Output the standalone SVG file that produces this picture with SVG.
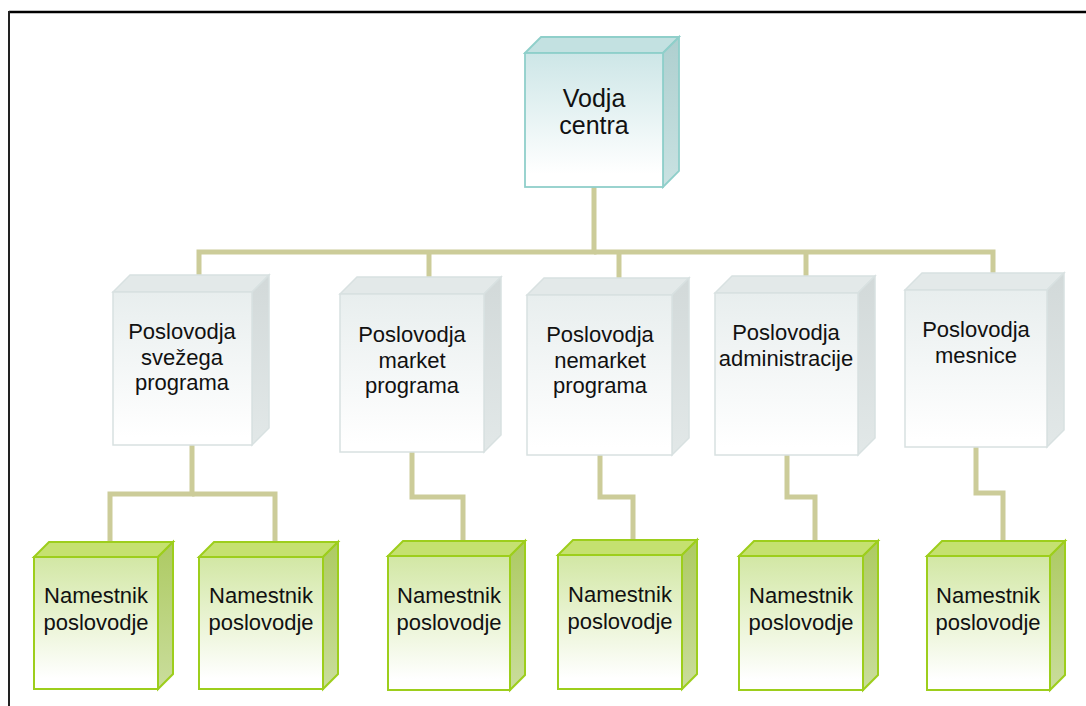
<svg xmlns="http://www.w3.org/2000/svg" width="1086" height="706" viewBox="0 0 1086 706">
<defs>
<linearGradient id="gTealF" x1="0" y1="0" x2="0" y2="1"><stop offset="0" stop-color="#cde6e7"/><stop offset="0.9" stop-color="#ffffff"/></linearGradient>
<linearGradient id="gTealR" x1="0" y1="0" x2="0" y2="1"><stop offset="0" stop-color="#aecfcf"/><stop offset="1" stop-color="#c9e2e2"/></linearGradient>
<linearGradient id="gGreyF" x1="0" y1="0" x2="0" y2="1"><stop offset="0" stop-color="#e8eeee"/><stop offset="0.95" stop-color="#ffffff"/></linearGradient>
<linearGradient id="gGreyR" x1="0" y1="0" x2="0" y2="1"><stop offset="0" stop-color="#d2d9d9"/><stop offset="1" stop-color="#e2e8e8"/></linearGradient>
<linearGradient id="gGreenF" x1="0" y1="0" x2="0" y2="1"><stop offset="0" stop-color="#d2e7a4"/><stop offset="0.92" stop-color="#ffffff"/></linearGradient>
<linearGradient id="gGreenR" x1="0" y1="0" x2="0" y2="1"><stop offset="0" stop-color="#adca62"/><stop offset="1" stop-color="#cadd9c"/></linearGradient>
</defs>
<style>
.t{font-family:"Liberation Sans",Arial,sans-serif;font-size:22px;fill:#111;text-anchor:middle}
.big{font-size:25px}
.conn{fill:none;stroke:#cccc99;stroke-width:5;stroke-linejoin:miter;stroke-linecap:butt}
.teal .f{fill:url(#gTealF)} .teal .tp{fill:#c3e1e1} .teal .r{fill:url(#gTealR)} .teal polygon,.teal rect{stroke:#8fcfca;stroke-width:1.8}
.grey .f{fill:url(#gGreyF)} .grey .tp{fill:#e3e9e9} .grey .r{fill:url(#gGreyR)} .grey polygon,.grey rect{stroke:#d8e1e1;stroke-width:1.5}
.green .f{fill:url(#gGreenF)} .green .tp{fill:#c5e170} .green .r{fill:url(#gGreenR)} .green polygon,.green rect{stroke:#9dce1c;stroke-width:2}
</style>
<rect width="1086" height="706" fill="#ffffff"/>
<g id="frame">
<line x1="9" y1="12" x2="1086" y2="12" stroke="#000" stroke-width="2.5"/>
<line x1="9" y1="11" x2="9" y2="706" stroke="#222" stroke-width="2"/>
</g>
<g id="connectors">
<path class="conn" d="M594,187 V252 H199 V276"/>
<path class="conn" d="M594,252 H993 V274"/>
<path class="conn" d="M429,252 V278"/>
<path class="conn" d="M619,252 V279"/>
<path class="conn" d="M806,252 V277"/>
<path class="conn" d="M192,445 V494 H110 V543"/>
<path class="conn" d="M192,494 H275 V543"/>
<path class="conn" d="M412,452 V497 H463 V542"/>
<path class="conn" d="M600,455 V497 H633 V541"/>
<path class="conn" d="M787,455 V497 H815 V542"/>
<path class="conn" d="M976,447 V493 H1003 V542"/>
</g>
<g id="vodja-centra" class="teal">
<polygon class="tp" points="525,53 541,37 679,37 663,53"/>
<polygon class="r" points="663,53 679,37 679,171 663,187"/>
<rect class="f" x="525" y="53" width="138" height="134"/>
<text class="t big" x="594" y="107">Vodja</text>
<text class="t big" x="594" y="134">centra</text>
</g>
<g id="poslovodja-svezega" class="grey">
<polygon class="tp" points="113,292 130,275 269,275 252,292"/>
<polygon class="r" points="252,292 269,275 269,428 252,445"/>
<rect class="f" x="113" y="292" width="139" height="153"/>
<text class="t" x="182" y="339">Poslovodja</text>
<text class="t" x="182" y="364.5">svežega</text>
<text class="t" x="182" y="390">programa</text>
</g>
<g id="poslovodja-market" class="grey">
<polygon class="tp" points="340,294 357,277 501,277 484,294"/>
<polygon class="r" points="484,294 501,277 501,435 484,452"/>
<rect class="f" x="340" y="294" width="144" height="158"/>
<text class="t" x="412" y="342">Poslovodja</text>
<text class="t" x="412" y="367.5">market</text>
<text class="t" x="412" y="393">programa</text>
</g>
<g id="poslovodja-nemarket" class="grey">
<polygon class="tp" points="527,295 544,278 689,278 672,295"/>
<polygon class="r" points="672,295 689,278 689,438 672,455"/>
<rect class="f" x="527" y="295" width="145" height="160"/>
<text class="t" x="600" y="342">Poslovodja</text>
<text class="t" x="600" y="367.5">nemarket</text>
<text class="t" x="600" y="393">programa</text>
</g>
<g id="poslovodja-administracije" class="grey">
<polygon class="tp" points="715,293 732,276 875,276 858,293"/>
<polygon class="r" points="858,293 875,276 875,438 858,455"/>
<rect class="f" x="715" y="293" width="143" height="162"/>
<text class="t" x="786" y="340">Poslovodja</text>
<text class="t" x="786" y="365.5">administracije</text>
</g>
<g id="poslovodja-mesnice" class="grey">
<polygon class="tp" points="905,290 922,273 1064,273 1047,290"/>
<polygon class="r" points="1047,290 1064,273 1064,430 1047,447"/>
<rect class="f" x="905" y="290" width="142" height="157"/>
<text class="t" x="976" y="337">Poslovodja</text>
<text class="t" x="976" y="362.5">mesnice</text>
</g>
<g id="namestnik-1" class="green">
<polygon class="tp" points="34,557 49,542 173,542 158,557"/>
<polygon class="r" points="158,557 173,542 173,674 158,689"/>
<rect class="f" x="34" y="557" width="124" height="132"/>
<text class="t" x="96" y="603">Namestnik</text>
<text class="t" x="96" y="630">poslovodje</text>
</g>
<g id="namestnik-2" class="green">
<polygon class="tp" points="199,557 214,542 338,542 323,557"/>
<polygon class="r" points="323,557 338,542 338,674 323,689"/>
<rect class="f" x="199" y="557" width="124" height="132"/>
<text class="t" x="261" y="603">Namestnik</text>
<text class="t" x="261" y="630">poslovodje</text>
</g>
<g id="namestnik-3" class="green">
<polygon class="tp" points="388,556 403,541 525,541 510,556"/>
<polygon class="r" points="510,556 525,541 525,675 510,690"/>
<rect class="f" x="388" y="556" width="122" height="134"/>
<text class="t" x="449" y="603">Namestnik</text>
<text class="t" x="449" y="630">poslovodje</text>
</g>
<g id="namestnik-4" class="green">
<polygon class="tp" points="558,555 573,540 697,540 682,555"/>
<polygon class="r" points="682,555 697,540 697,674 682,689"/>
<rect class="f" x="558" y="555" width="124" height="134"/>
<text class="t" x="620" y="602">Namestnik</text>
<text class="t" x="620" y="629">poslovodje</text>
</g>
<g id="namestnik-5" class="green">
<polygon class="tp" points="739,556 754,541 878,541 863,556"/>
<polygon class="r" points="863,556 878,541 878,675 863,690"/>
<rect class="f" x="739" y="556" width="124" height="134"/>
<text class="t" x="801" y="603">Namestnik</text>
<text class="t" x="801" y="630">poslovodje</text>
</g>
<g id="namestnik-6" class="green">
<polygon class="tp" points="927,556 942,541 1065,541 1050,556"/>
<polygon class="r" points="1050,556 1065,541 1065,675 1050,690"/>
<rect class="f" x="927" y="556" width="123" height="134"/>
<text class="t" x="988" y="603">Namestnik</text>
<text class="t" x="988" y="630">poslovodje</text>
</g>
</svg>
